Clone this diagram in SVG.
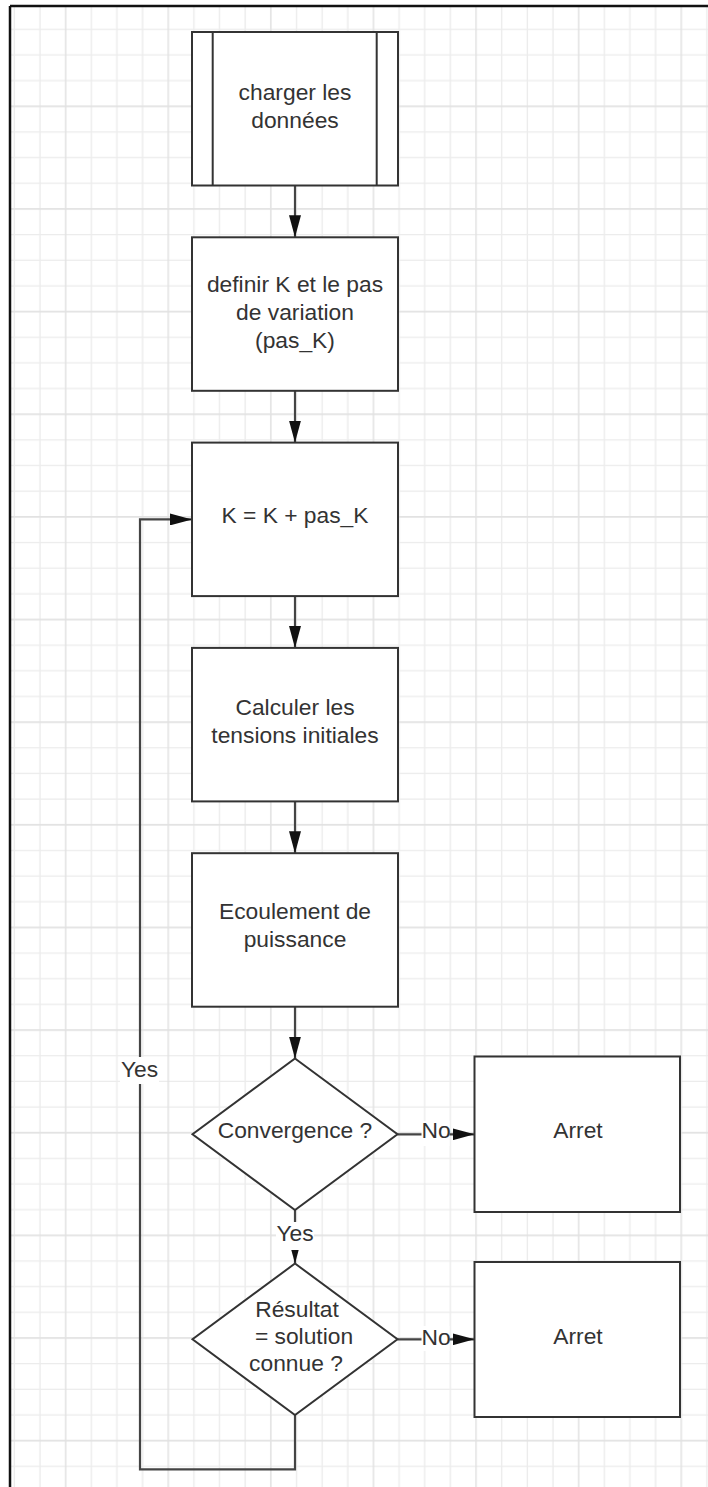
<svg xmlns="http://www.w3.org/2000/svg" width="708" height="1487" viewBox="0 0 708 1487">
<defs>
<pattern id="grid" patternUnits="userSpaceOnUse" x="52.825" y="-9.17" width="102.6" height="102.64">
<path d="M38.475,0V102.64M64.125,0V102.64M89.775,0V102.64M0,38.49H102.6M0,64.15H102.6M0,89.81H102.6" stroke="#ececec" stroke-width="1.4" fill="none"/>
<path d="M12.825,0V102.64M0,12.83H102.6" stroke="#e2e2e2" stroke-width="1.5" fill="none"/>
</pattern>
<marker id="arrow" markerUnits="userSpaceOnUse" markerWidth="22" markerHeight="12" refX="22" refY="6" orient="auto">
<path d="M0,0L22,6L0,12z" fill="#111"/>
</marker>
<style>
.box{fill:#fff;stroke:#333;stroke-width:2}
.line{fill:none;stroke:#333;stroke-width:2}
.conn{fill:none;stroke:#444;stroke-width:2.2}
.t{font-family:"Liberation Sans",Arial,Helvetica,sans-serif;font-size:22.8px;fill:#333;text-anchor:middle}
.lbl{fill:#fff;stroke:none}
</style>
</defs>
<rect x="0" y="0" width="708" height="1487" fill="#fff"/>
<rect x="10" y="6" width="698" height="1481" fill="url(#grid)"/>
<path d="M10,6H708M10,6V1487" stroke="#111" stroke-width="2.5" fill="none"/>

<g id="connectors">
<path class="conn" d="M295,185.5V237.3" marker-end="url(#arrow)"/>
<path class="conn" d="M295,390.8V442.6" marker-end="url(#arrow)"/>
<path class="conn" d="M295,596.1V647.9" marker-end="url(#arrow)"/>
<path class="conn" d="M295,801.4V853.2" marker-end="url(#arrow)"/>
<path class="conn" d="M295,1006.7V1058.5" marker-end="url(#arrow)"/>
<path class="conn" d="M397.5,1134.3H474.5" marker-end="url(#arrow)"/>
<path class="conn" d="M295,1210V1263.5" marker-end="url(#arrow)"/>
<path class="conn" d="M397.5,1339.3H474.5" marker-end="url(#arrow)"/>
<path class="conn" d="M295,1415V1469.3H140V519.4H192" marker-end="url(#arrow)"/>
<rect class="lbl" x="421.5" y="1121" width="28" height="25"/>
<text class="t" x="436" y="1138.3">No</text>
<rect class="lbl" x="276" y="1222" width="38" height="28"/>
<text class="t" x="295" y="1240.7">Yes</text>
<rect class="lbl" x="421.5" y="1326" width="28" height="25"/>
<text class="t" x="436" y="1345">No</text>
<rect class="lbl" x="120" y="1057" width="39" height="27"/>
<text class="t" x="139.5" y="1076.7">Yes</text>
</g>

<g id="node-charger">
<rect class="box" x="192" y="32" width="206" height="153.5"/>
<path class="line" d="M212.7,32V185.5M376.7,32V185.5"/>
<text class="t" x="295" y="99.5">charger les</text>
<text class="t" x="295" y="127.5">données</text>
</g>

<g id="node-definir">
<rect class="box" x="192" y="237.3" width="206" height="153.5"/>
<text class="t" x="295" y="291.7">definir K et le pas</text>
<text class="t" x="295" y="319.7">de variation</text>
<text class="t" x="295" y="347.5">(pas_K)</text>
</g>

<g id="node-increment">
<rect class="box" x="192" y="442.6" width="206" height="153.5"/>
<text class="t" x="295" y="523.3">K = K + pas_K</text>
</g>

<g id="node-calculer">
<rect class="box" x="192" y="647.9" width="206" height="153.5"/>
<text class="t" x="295" y="715.4">Calculer les</text>
<text class="t" x="295" y="743.4">tensions initiales</text>
</g>

<g id="node-ecoulement">
<rect class="box" x="192" y="853.2" width="206" height="153.5"/>
<text class="t" x="295" y="918.5">Ecoulement de</text>
<text class="t" x="295" y="946.5">puissance</text>
</g>

<g id="node-convergence">
<path class="box" d="M295,1058.5L397.5,1134.3L295,1210L192.5,1134.3Z"/>
<text class="t" x="295" y="1138.3">Convergence ?</text>
</g>

<g id="node-arret1">
<rect class="box" x="474.5" y="1056.5" width="205.5" height="155.5"/>
<text class="t" x="578" y="1137.8">Arret</text>
</g>

<g id="node-resultat">
<path class="box" d="M295,1263.5L397.5,1339.3L295,1415L192.5,1339.3Z"/>
<text class="t" x="297" y="1316.5">Résultat</text>
<text class="t" x="304" y="1343.7">= solution</text>
<text class="t" x="296" y="1370.8">connue ?</text>
</g>

<g id="node-arret2">
<rect class="box" x="474.5" y="1262" width="205.5" height="155"/>
<text class="t" x="578" y="1344">Arret</text>
</g>
</svg>
